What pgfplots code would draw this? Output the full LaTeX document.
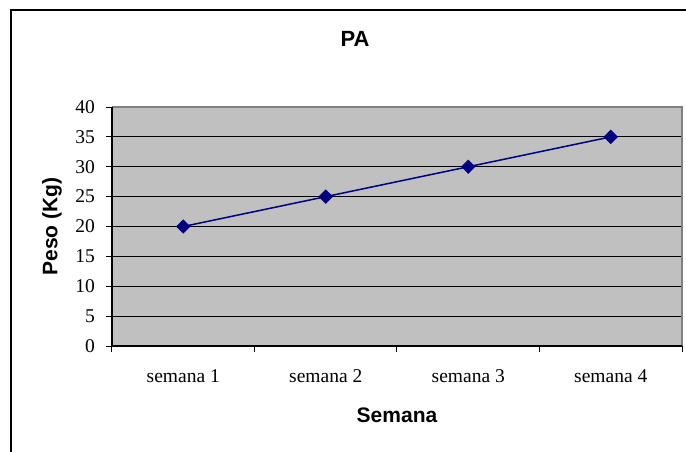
\documentclass[border=0pt]{standalone}
\usepackage{fontspec}
\setmainfont{Liberation Serif}
\newfontfamily\arial{Liberation Sans}
\usepackage{pgfplots}
\pgfplotsset{compat=1.18}
\definecolor{plotgray}{HTML}{C0C0C0}
\definecolor{bordergray}{HTML}{808080}
\definecolor{navyline}{HTML}{000080}

\begin{document}
\begin{tikzpicture}[x=1pt,y=1pt]
\useasboundingbox (0,0) rectangle (686,-451);
\begin{scope}
  \clip (0,0) rectangle (686,-451);
  \draw[line width=1.3pt] (11,-10) rectangle (699,-480);
\end{scope}
\begin{axis}[
    at={(112pt,-346pt)}, anchor=south west,
    scale only axis,
    width=570pt, height=239pt,
    xmin=-0.5, xmax=3.5,
    ymin=0, ymax=40,
    xtick={0,1,2,3},
    xticklabels={semana 1, semana 2, semana 3, semana 4},
    minor xtick={-0.5,0.5,1.5,2.5,3.5},
    ytick={0,5,...,40},
    xtick pos=bottom, ytick pos=left,
    tick align=outside,
    major tick length=6pt,
    minor tick length=6pt,
    major x tick style={draw=none},
    minor x tick style={black, line width=1pt},
    ytick style={black, line width=1pt},
    ymajorgrids=true,
    grid style={black, line width=0.9pt},
    axis background/.style={fill=plotgray},
    axis line style={draw=none},
    /pgf/number format/assume math mode=true,
    tick label style={font=\fontsize{19.5}{21}\selectfont, inner sep=0pt},
    yticklabel style={anchor=east, xshift=-11pt},
    xticklabel style={anchor=base, yshift=-30pt},
    title={PA},
    title style={font=\arial\bfseries\fontsize{22}{24}\selectfont,
                 at={(axis description cs:0.5,1)}, anchor=center,
                 xshift=-42pt, yshift=62pt},
    xlabel={Semana},
    xlabel style={font=\arial\bfseries\fontsize{21}{23}\selectfont,
                  at={(axis description cs:0.5,0)}, anchor=center, yshift=-69pt},
    ylabel={Peso (Kg)},
    ylabel style={font=\arial\bfseries\fontsize{21}{23}\selectfont,
                  at={(axis description cs:-0.1053,0.5)}, anchor=center},
    clip=false,
]
\addplot[navyline, line width=1.5pt, mark=square*,
         mark size=4.3pt, mark options={rotate=45, fill=navyline, draw=navyline}]
    coordinates {(0,20) (1,25) (2,30) (3,35)};
\draw[bordergray, line width=1.3pt] (rel axis cs:0,1) -- (rel axis cs:1,1) -- (rel axis cs:1,0);
\draw[black, line width=1.5pt] (rel axis cs:0,1) -- (rel axis cs:0,0) -- (rel axis cs:1,0);
\end{axis}
\end{tikzpicture}
\end{document}
